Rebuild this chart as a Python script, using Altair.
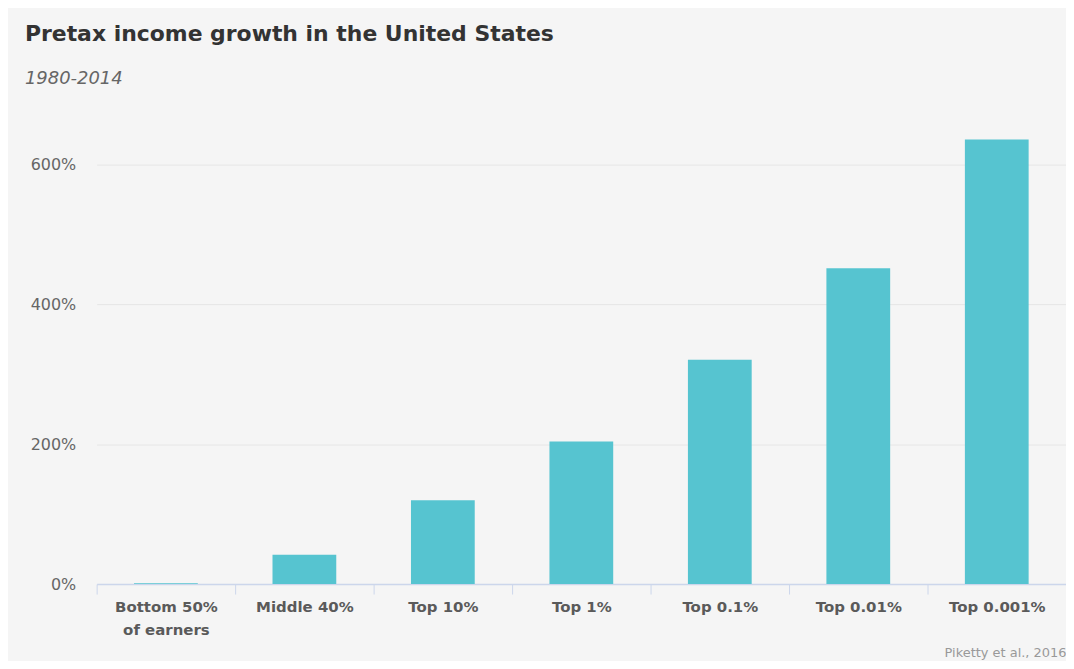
import altair as alt
import pandas as pd

categories = ["Bottom 50% of earners", "Middle 40%", "Top 10%", "Top 1%",
              "Top 0.1%", "Top 0.01%", "Top 0.001%"]
growth = [1, 42, 120, 204, 321, 452, 636]

df = pd.DataFrame({"group": categories, "growth": growth})

label_expr = ("datum.value == 'Bottom 50% of earners' ? "
              "['Bottom 50%', 'of earners'] : datum.value")

chart = alt.Chart(df).mark_bar(color="#56c4d0", width=64).encode(
    x=alt.X("group:N", sort=categories,
            scale=alt.Scale(paddingInner=0, paddingOuter=0),
            axis=alt.Axis(title="Piketty et al., 2016", titleAnchor="end",
                          titleFont="DejaVu Sans", titleFontSize=13,
                          titleFontWeight="normal", titleColor="#999999",
                          titlePadding=9,
                          labelExpr=label_expr, labelAngle=0,
                          labelFont="DejaVu Sans", labelFontSize=15,
                          labelFontWeight="bold", labelColor="#5a5a5a",
                          labelPadding=6, labelLineHeight=23,
                          tickBand="extent", tickColor="#ccd6eb", tickSize=10,
                          domainColor="#ccd6eb", domainWidth=1.5, grid=False)),
    y=alt.Y("growth:Q", scale=alt.Scale(domain=[0, 650], nice=False),
            axis=alt.Axis(title=None, values=[0, 200, 400, 600],
                          labelExpr="datum.value + '%'",
                          labelFont="DejaVu Sans", labelFontSize=16,
                          labelColor="#666666", labelPadding=21,
                          domain=False, ticks=False,
                          gridColor="#e6e6e6", gridWidth=1)),
).properties(
    width=973,
    height=456,
    background="#f5f5f5",
    padding={"left": 89, "top": 121, "right": 0, "bottom": 76},
    autosize=alt.AutoSizeParams(type="none"),
    title=alt.TitleParams(
        "Pretax income growth in the United States",
        subtitle="1980-2014",
        anchor="start", frame="group", dx=-72, offset=41,
        font="DejaVu Sans", fontSize=22, fontWeight="bold", color="#333333",
        subtitleFont="DejaVu Sans", subtitleFontSize=18,
        subtitleFontStyle="italic", subtitleColor="#666666",
        subtitlePadding=24,
    ),
).configure_view(stroke=None)

chart.save("out.html", embed_options={"renderer": "svg", "actions": False})
